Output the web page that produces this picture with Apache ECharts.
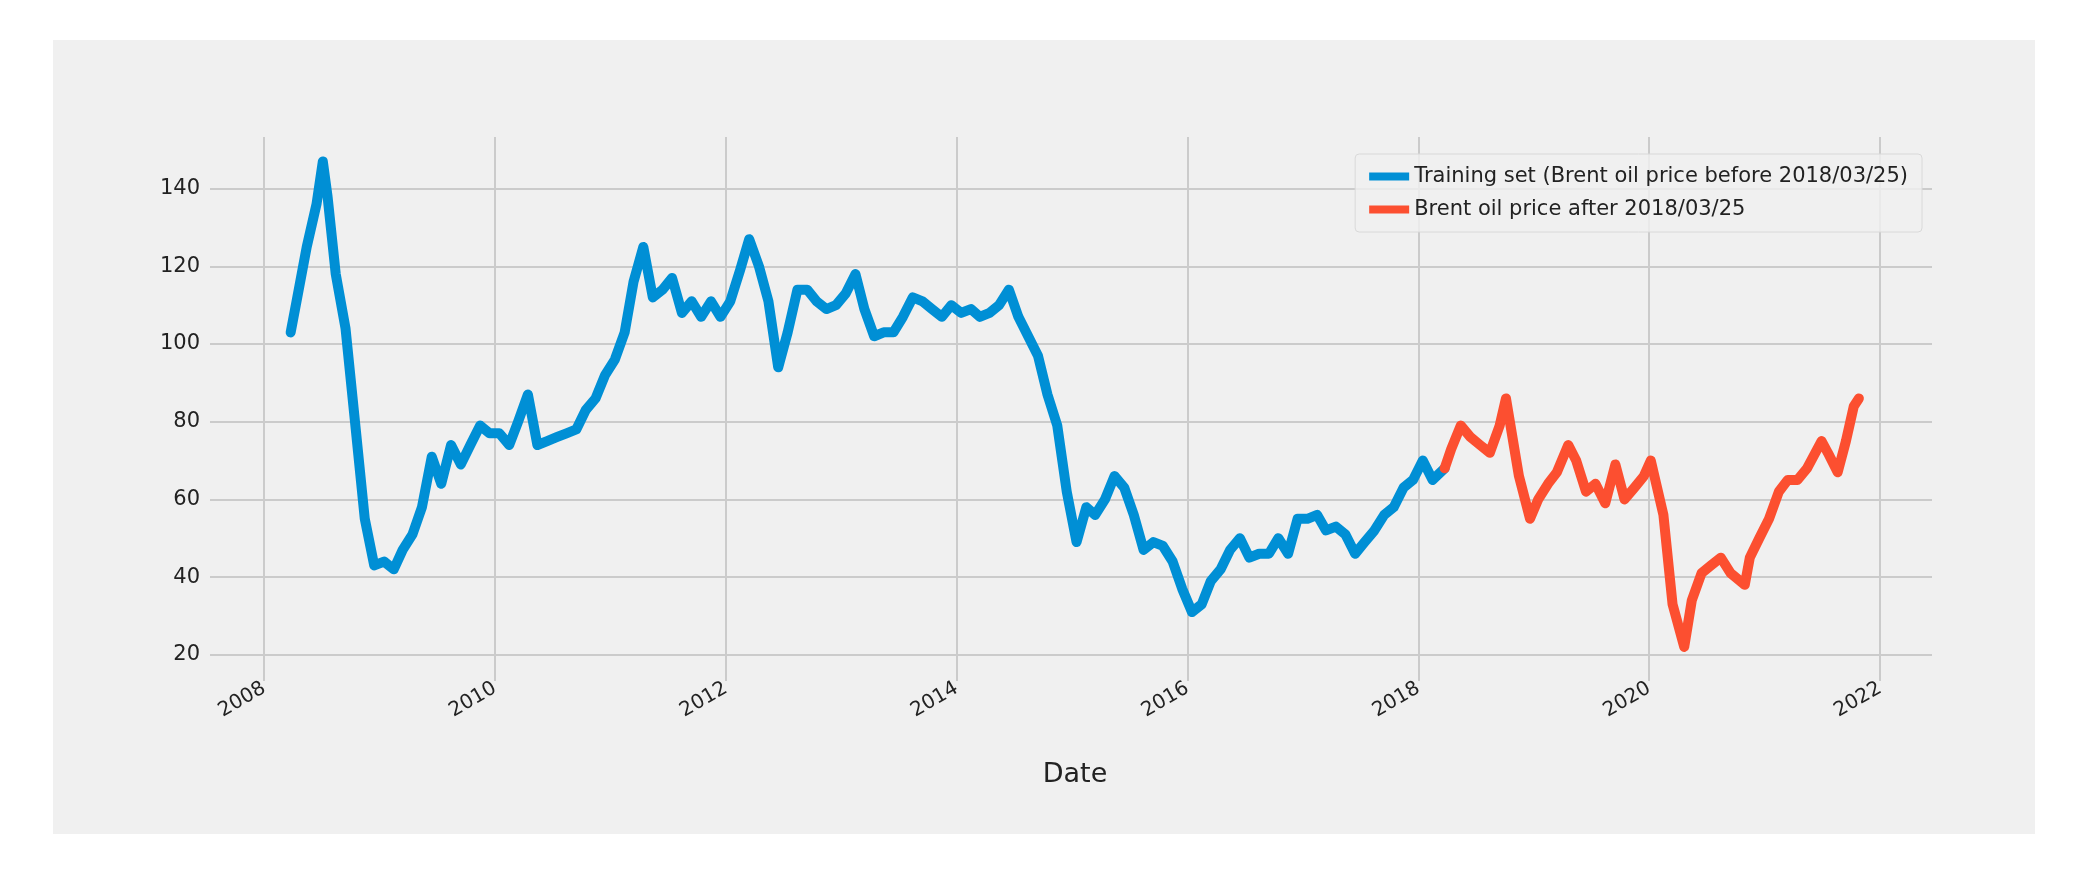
<!DOCTYPE html>
<html>
<head>
<meta charset="utf-8">
<script src="https://cdn.jsdelivr.net/npm/echarts@6/dist/echarts.min.js"></script>
<style>
  html, body { margin: 0; padding: 0; background: #ffffff; }
  #frame { position: absolute; left: 53px; top: 40px; width: 1982px; height: 794px; background: #f0f0f0; }
  #main { position: absolute; left: 0; top: 0; width: 2075px; height: 874px; }
</style>
</head>
<body>
<div id="frame"></div>
<div id="main"></div>
<script>
// monthly readings of the Brent price (approx)
var trainDates = [
  '2008-03-25','2008-04-15','2008-05-15','2008-06-15','2008-07-05','2008-07-20','2008-08-15','2008-09-15','2008-10-15','2008-11-15','2008-12-15',
  '2009-01-15','2009-02-15','2009-03-15','2009-04-15','2009-05-15','2009-06-15','2009-07-15','2009-08-15','2009-09-15','2009-10-15','2009-11-15','2009-12-15',
  '2010-01-15','2010-02-15','2010-03-15','2010-04-15','2010-05-15','2010-06-15','2010-07-15','2010-08-15','2010-09-15','2010-10-15','2010-11-15','2010-12-15',
  '2011-01-15','2011-02-15','2011-03-15','2011-04-15','2011-05-15','2011-06-15','2011-07-15','2011-08-15','2011-09-15','2011-10-15','2011-11-15','2011-12-15',
  '2012-01-15','2012-02-15','2012-03-15','2012-04-15','2012-05-15','2012-06-15','2012-07-15','2012-08-15','2012-09-15','2012-10-15','2012-11-15','2012-12-15',
  '2013-01-15','2013-02-15','2013-03-15','2013-04-15','2013-05-15','2013-06-15','2013-07-15','2013-08-15','2013-09-15','2013-10-15','2013-11-15','2013-12-15',
  '2014-01-15','2014-02-15','2014-03-15','2014-04-15','2014-05-15','2014-06-15','2014-07-15','2014-08-15','2014-09-15','2014-10-15','2014-11-15','2014-12-15',
  '2015-01-15','2015-02-15','2015-03-15','2015-04-15','2015-05-15','2015-06-15','2015-07-15','2015-08-15','2015-09-15','2015-10-15','2015-11-15','2015-12-15',
  '2016-01-15','2016-02-15','2016-03-15','2016-04-15','2016-05-15','2016-06-15','2016-07-15','2016-08-15','2016-09-15','2016-10-15','2016-11-15','2016-12-15',
  '2017-01-15','2017-02-15','2017-03-15','2017-04-15','2017-05-15','2017-06-15','2017-07-15','2017-08-15','2017-09-15','2017-10-15','2017-11-15','2017-12-15',
  '2018-01-15','2018-02-15','2018-03-25'
];
var trainValues = [
  103, 112, 125, 136, 147, 138, 118, 104, 80, 55, 43,
  44, 42, 47, 51, 58, 71, 64, 74, 69, 74, 79, 77,
  77, 74, 80, 87, 74, 75, 76, 77, 78, 83, 86, 92,
  96, 103, 116, 125, 112, 114, 117, 108, 111, 107, 111, 107,
  111, 119, 127, 120, 111, 94, 103, 114, 114, 111, 109, 110,
  113, 118, 109, 102, 103, 103, 107, 112, 111, 109, 107, 110,
  108, 109, 107, 108, 110, 114, 107, 102, 97, 87, 79, 62,
  49, 58, 56, 60, 66, 63, 56, 47, 49, 48, 44, 37,
  31, 33, 39, 42, 47, 50, 45, 46, 46, 50, 46, 55,
  55, 56, 52, 53, 51, 46, 49, 52, 56, 58, 63, 65,
  70, 65, 68
];
var testDates = [
  '2018-03-25','2018-04-15','2018-05-15','2018-06-15','2018-07-15','2018-08-15','2018-09-15','2018-10-05','2018-11-15','2018-12-20',
  '2019-01-15','2019-02-15','2019-03-15','2019-04-20','2019-05-15','2019-06-15','2019-07-15','2019-08-15','2019-09-16','2019-10-15','2019-11-15','2019-12-15',
  '2020-01-06','2020-02-15','2020-03-15','2020-04-21','2020-05-15','2020-06-15','2020-07-15','2020-08-15','2020-09-15','2020-10-30','2020-11-15','2020-12-15',
  '2021-01-15','2021-02-15','2021-03-15','2021-04-15','2021-05-15','2021-06-30','2021-07-20','2021-08-20','2021-09-15','2021-10-10','2021-10-26'
];
var testValues = [
  68, 73, 79, 76, 74, 72, 79, 86, 66, 55,
  60, 64, 67, 74, 70, 62, 64, 59, 69, 60, 63, 66,
  70, 56, 33, 22, 34, 41, 43, 45, 41, 38, 45, 50,
  55, 62, 65, 65, 68, 75, 72, 67, 75, 84, 86
];
var yTicks = [20, 40, 60, 80, 100, 120, 140];
var xTickYears = [2008, 2010, 2012, 2014, 2016, 2018, 2020, 2022];

// date string -> fractional year, so the x axis can be a plain value axis
function toYear(s) {
  var t = Date.parse(s);
  var y = new Date(t).getUTCFullYear();
  var a = Date.UTC(y, 0, 1), b = Date.UTC(y + 1, 0, 1);
  return y + (t - a) / (b - a);
}
function pairs(d, v) {
  var out = [];
  for (var i = 0; i < d.length; i++) out.push([toYear(d[i]), v[i]]);
  return out;
}

var chart = echarts.init(document.getElementById('main'));
var font = 'DejaVu Sans';
chart.setOption({
  animation: false,
  textStyle: { fontFamily: font },
  grid: { left: 218, right: 143, top: 137, bottom: 201 },
  legend: {
    orient: 'vertical', right: 153, top: 154,
    itemWidth: 40, itemHeight: 8, itemGap: 12, icon: 'rect',
    backgroundColor: 'rgba(240,240,240,0.8)', borderColor: '#d8d8d8', borderWidth: 1, borderRadius: 4,
    padding: [12, 14, 12, 14],
    textStyle: { fontSize: 21, color: '#222', fontFamily: font },
    data: ['Training set (Brent oil price before 2018/03/25)', 'Brent oil price after 2018/03/25']
  },
  xAxis: {
    type: 'value',
    min: 2007.6, max: 2022.45,
    name: 'Date', nameLocation: 'middle', nameGap: 88,
    nameTextStyle: { fontSize: 27, color: '#222', fontFamily: font },
    axisLine: { show: false },
    axisTick: { show: true, customValues: xTickYears, length: 8, lineStyle: { color: '#cbcbcb', width: 2 } },
    axisLabel: {
      customValues: xTickYears, rotate: 30, fontSize: 20, color: '#222', margin: 14,
      formatter: function (v) { return String(Math.round(v)); }
    },
    splitLine: { show: true, lineStyle: { color: '#cbcbcb', width: 2 } }
  },
  yAxis: {
    type: 'value', min: 15.3, max: 153.3,
    axisLine: { show: false },
    axisTick: { show: true, customValues: yTicks, length: 8, lineStyle: { color: '#cbcbcb', width: 2 } },
    axisLabel: { customValues: yTicks, fontSize: 21, color: '#222', margin: 18 },
    splitLine: { show: true, lineStyle: { color: '#cbcbcb', width: 2 } }
  },
  series: [
    {
      name: 'Training set (Brent oil price before 2018/03/25)', type: 'line',
      data: pairs(trainDates, trainValues), showSymbol: false,
      lineStyle: { color: '#008fd5', width: 10, cap: 'round', join: 'round' }, itemStyle: { color: '#008fd5' }
    },
    {
      name: 'Brent oil price after 2018/03/25', type: 'line',
      data: pairs(testDates, testValues), showSymbol: false,
      lineStyle: { color: '#fc4f30', width: 10, cap: 'round', join: 'round' }, itemStyle: { color: '#fc4f30' }
    }
  ]
});
</script>
</body>
</html>
